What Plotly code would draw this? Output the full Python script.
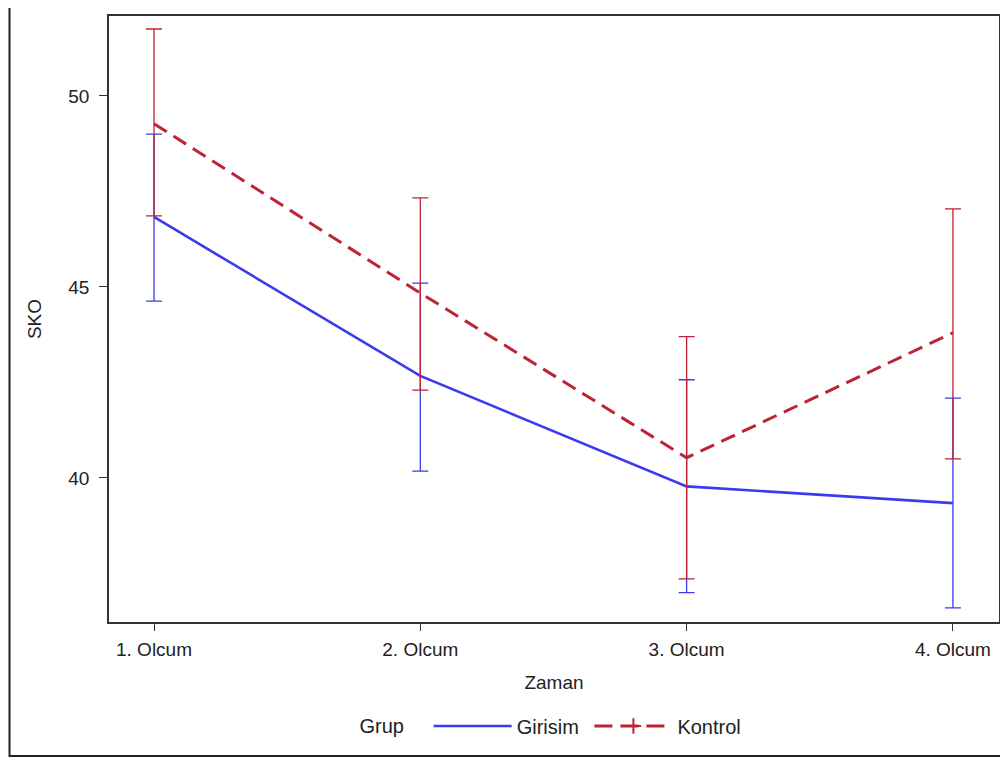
import plotly.graph_objects as go

categories = ["1. Olcum", "2. Olcum", "3. Olcum", "4. Olcum"]

girisim_mean = [46.83, 42.67, 39.78, 39.34]
girisim_upper = [49.00, 45.10, 42.57, 42.09]
girisim_lower = [44.63, 40.18, 37.00, 36.60]

kontrol_mean = [49.27, 44.84, 40.53, 43.80]
kontrol_upper = [51.75, 47.33, 43.70, 47.04]
kontrol_lower = [46.86, 42.30, 37.36, 40.50]

BLUE = "#3B3BEE"
RED = "#BC2335"
FONT = "Liberation Sans, Arial, sans-serif"
FS = 19
LFS = 20

# page body has an 8px margin; figure is sized to fit the window
OFF = 8
W, H = 1000, 751
PL, PR, PT, PB = 109, 999, 16, 622  # plot area in window pixels

fig = go.Figure()

fig.add_trace(go.Scatter(
    x=categories, y=girisim_mean, name="Girisim ", mode="lines",
    line=dict(color=BLUE, width=2.6),
    error_y=dict(type="data", symmetric=False,
                 array=[u - m for u, m in zip(girisim_upper, girisim_mean)],
                 arrayminus=[m - l for m, l in zip(girisim_mean, girisim_lower)],
                 color=BLUE, thickness=1.3, width=8),
))

fig.add_trace(go.Scatter(
    x=categories, y=kontrol_mean, name="Kontrol", mode="lines",
    line=dict(color=RED, width=3, dash="15px,8px"),
    showlegend=False,
    error_y=dict(type="data", symmetric=False,
                 array=[u - m for u, m in zip(kontrol_upper, kontrol_mean)],
                 arrayminus=[m - l for m, l in zip(kontrol_mean, kontrol_lower)],
                 color=RED, thickness=1.3, width=8),
))

# legend entry for Kontrol (dashed line with plus marker)
fig.add_trace(go.Scatter(
    x=[None], y=[None], name="Kontrol", mode="lines+markers",
    line=dict(color=RED, width=3, dash="18px,8px"),
    marker=dict(symbol="cross-thin", size=11, line=dict(color=RED, width=2)),
))

pw = PR - PL
ph = PB - PT

fig.update_layout(
    width=W, height=H,
    margin=dict(l=PL - OFF, r=W - (PR - OFF), t=PT - OFF, b=H - (PB - OFF),
                autoexpand=False),
    paper_bgcolor="white", plot_bgcolor="white",
    font=dict(family=FONT, size=FS, color="#222222"),
    showlegend=True,
    legend=dict(
        orientation="h", x=(552 - PL) / pw, xanchor="center",
        y=(PB - 726) / ph, yanchor="middle",
        bgcolor="rgba(0,0,0,0)",
        title=dict(text="Grup   ", side="left", font=dict(size=LFS)),
        font=dict(size=LFS), itemwidth=78,
    ),
    xaxis=dict(
        type="category", range=[-0.169, 3.173], automargin=False,
        showline=True, linecolor="#333333", linewidth=1.5, mirror=True,
        ticks="outside", ticklen=7, tickcolor="#333333", tickwidth=1.2,
        ticklabelstandoff=2,
        showgrid=False, zeroline=False,
        title=dict(text="Zaman", standoff=17, font=dict(size=FS)),
        tickfont=dict(size=FS),
    ),
    yaxis=dict(
        range=[36.23, 52.09], automargin=False,
        tickvals=[40, 45, 50],
        showline=True, linecolor="#333333", linewidth=1.5, mirror=True,
        ticks="outside", ticklen=8, tickcolor="#333333", tickwidth=1.2,
        ticklabelstandoff=6,
        showgrid=False, zeroline=False,
        title=dict(text="SKO", standoff=22, font=dict(size=FS)),
        tickfont=dict(size=FS),
    ),
    shapes=[dict(
        type="rect", xref="paper", yref="paper",
        x0=(OFF + 1.5 - PL) / pw, x1=(1015 - PL) / pw,
        y0=(PB - 756) / ph, y1=(PB + 6) / ph,
        line=dict(color="#222222", width=2), fillcolor="rgba(0,0,0,0)",
        layer="below",
    )],
)

fig.write_html("out.html")
